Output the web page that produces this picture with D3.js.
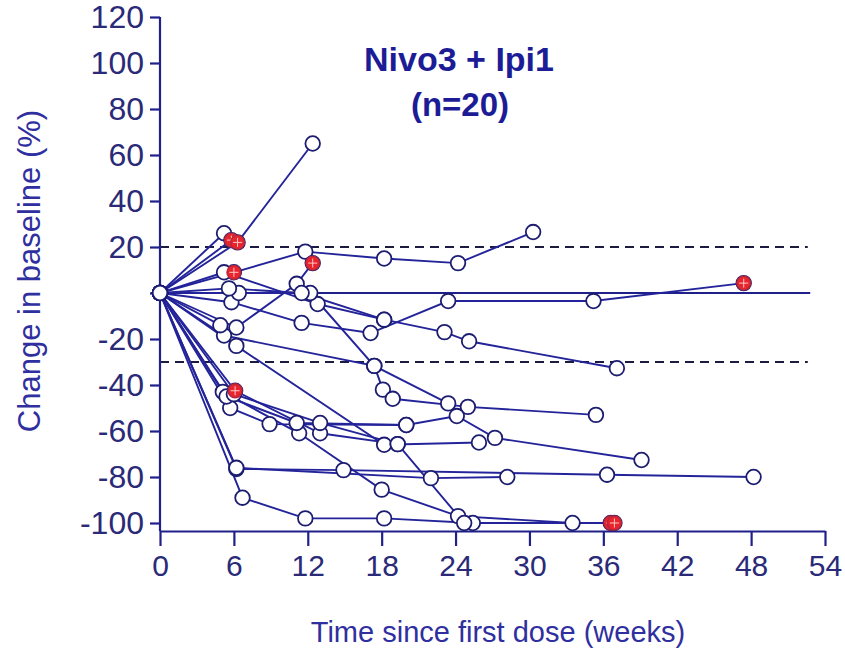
<!DOCTYPE html>
<html>
<head>
<meta charset="utf-8">
<script src="https://cdn.jsdelivr.net/npm/d3@7/dist/d3.min.js"></script>
<style>
  body { margin: 0; background: #fff; }
  svg { font-family: Arial, "Liberation Sans", sans-serif; }
</style>
</head>
<body>
<svg id="chart"></svg>
<script>
// ******************** Data ************************
// one row per patient: assessment weeks and % change from baseline
var patientWeeks = [
    [0, 6.3, 12.4],
    [0, 5.2],
    [0, 5.8],
    [0, 6, 11.8, 18.2, 24.2, 30.3],
    [0, 5.2, 12.8, 18.2, 23.1, 25.1, 37.1],
    [0, 6.2, 11.1, 12.4],
    [0, 5.8, 11.5, 17.1, 23.4, 35.2, 47.4],
    [0, 6.4, 12.2, 17.4, 23.4],
    [0, 5.6, 11.5, 18.2],
    [0, 5.2, 17.4, 18.1, 18.9, 25, 35.4],
    [0, 4.9],
    [0, 6.2, 18.2, 25.9],
    [0, 6.7, 11.8, 18.2, 25.4, 36.6],
    [0, 5.1, 11.3, 18, 24.2, 33.5],
    [0, 6.2, 14.9, 36.3, 48.2],
    [0, 6.2, 22, 28.2],
    [0, 6.1, 13, 19.3, 24.7, 36.9],
    [0, 5.7, 8.9, 20, 24.1, 27.2, 39.1],
    [0, 5.4, 11.1, 20],
    [0, 6, 13, 19.3]
];
var patientValues = [
    [0, 22, 65],
    [0, 26],
    [0, 23],
    [0, 9, 18, 15, 13, 26.5],
    [0, 9, -4.8, -11.6, -17, -21, -32.7],
    [0, -15, 4, 13],
    [0, -4, -13, -17.4, -3.5, -3.5, 4.3],
    [0, 0, 0, -31.7, -48],
    [0, 2, 0, -11.6],
    [0, -18.5, -31.7, -42, -46, -49.5, -53],
    [0, -14],
    [0, -23, -66, -65],
    [0, -89, -98, -98, -100, -100],
    [0, -43, -61, -85.5, -97, -100],
    [0, -76.5, -77, -79, -80],
    [0, -76, -80.5, -80],
    [0, -42.5, -61, -65.7, -100, -100],
    [0, -50, -57, -57.4, -53.5, -63, -72.6],
    [0, -45, -56.5, -57.4],
    [0, -44, -56.5, -65.7]
];
// red flagged assessments
var flagWeeks  = [5.8, 6.3, 6, 12.4, 6.1, 36.6, 36.9, 47.4];
var flagValues = [23, 22, 9, 13, -42.5, -100, -100, 4.3];

var xTicks = [0, 6, 12, 18, 24, 30, 36, 42, 48, 54];
var yTicks = [120, 100, 80, 60, 40, 20, 0, -20, -40, -60, -80, -100];
var yTickLabels = ["120", "100", "80", "60", "40", "20", "", "-20", "-40", "-60", "-80", "-100"];
var dashedLevels = [20, -30];

// ******************** Globals ************************
var W = 845, H = 650;
var navy = "#20208a", ink = "#2a2a78", titleBlue = "#1c1c96";

var x = d3.scaleLinear().domain([0, 54]).range([160, 825]);
var y = d3.scaleLinear().domain([-100, 120]).range([523, 17]);
var axisY = y(-100) + 8;

var svg = d3.select("#chart").attr("width", W).attr("height", H);

// reference lines
svg.selectAll("line.dash")
    .data(dashedLevels)
    .enter().append("line")
    .attr("x1", x(0)).attr("x2", x(52.6))
    .attr("y1", y).attr("y2", y)
    .attr("stroke", "#1b1b40")
    .attr("stroke-width", 2)
    .attr("stroke-dasharray", "9,6");

svg.append("line")
    .attr("x1", x(0)).attr("x2", x(52.8))
    .attr("y1", y(0)).attr("y2", y(0))
    .attr("stroke", navy).attr("stroke-width", 1.8);

// x axis
var gx = svg.append("g")
    .attr("transform", "translate(0," + axisY + ")")
    .call(d3.axisBottom(x).tickValues(xTicks).tickSize(15).tickSizeOuter(0).tickPadding(9));
gx.select(".domain").attr("stroke", navy).attr("stroke-width", 2.2);
gx.selectAll(".tick line").attr("stroke", navy).attr("stroke-width", 2.2);
gx.selectAll(".tick text").attr("fill", ink).style("font-size", "30px");

// y axis
var gy = svg.append("g")
    .attr("transform", "translate(" + x(0) + ",0)")
    .call(d3.axisLeft(y).tickValues(yTicks).tickSize(10).tickPadding(6)
        .tickFormat(function (d, i) { return yTickLabels[i]; }));
gy.select(".domain").remove();
gy.append("line")
    .attr("x1", 0).attr("x2", 0)
    .attr("y1", y(120)).attr("y2", axisY)
    .attr("stroke", navy).attr("stroke-width", 2.2);
gy.selectAll(".tick line").attr("stroke", navy).attr("stroke-width", 2.2);
gy.selectAll(".tick text").attr("fill", ink).style("font-size", "32px");

// patient lines
var line = d3.line()
    .x(function (d) { return x(d[0]); })
    .y(function (d) { return y(d[1]); });

var patients = patientWeeks.map(function (wk, i) {
    return wk.map(function (w, j) { return [w, patientValues[i][j]]; });
});

svg.append("g").selectAll("path")
    .data(patients)
    .enter().append("path")
    .attr("d", line)
    .attr("fill", "none")
    .attr("stroke", "#24249a")
    .attr("stroke-width", 1.9);

// open circles
var allPoints = [];
patients.forEach(function (p) { p.forEach(function (d) { allPoints.push(d); }); });

svg.append("g").selectAll("circle")
    .data(allPoints)
    .enter().append("circle")
    .attr("cx", function (d) { return x(d[0]); })
    .attr("cy", function (d) { return y(d[1]); })
    .attr("r", 7.3)
    .attr("fill", "#fff")
    .attr("stroke", "#1c1c70")
    .attr("stroke-width", 1.8);

// red flagged markers
var flags = flagWeeks.map(function (w, i) { return [w, flagValues[i]]; });
var gf = svg.append("g").selectAll("g")
    .data(flags)
    .enter().append("g")
    .attr("transform", function (d) { return "translate(" + x(d[0]) + "," + y(d[1]) + ")"; });
gf.append("circle")
    .attr("r", 7)
    .attr("fill", "#e8242c")
    .attr("stroke", "#b0283e")
    .attr("stroke-width", 1.3);
gf.append("path")
    .attr("d", "M-4.5,0H4.5M0,-4.5V4.5")
    .attr("stroke", "#ffc8c8")
    .attr("stroke-width", 1);

// titles
svg.append("text")
    .attr("x", 459).attr("y", 71)
    .attr("text-anchor", "middle")
    .attr("fill", titleBlue)
    .style("font-size", "34px").style("font-weight", "bold")
    .text("Nivo3 + Ipi1");
svg.append("text")
    .attr("x", 460).attr("y", 116)
    .attr("text-anchor", "middle")
    .attr("fill", titleBlue)
    .style("font-size", "33px").style("font-weight", "bold")
    .text("(n=20)");

svg.append("text")
    .attr("transform", "translate(40,271) rotate(-90)")
    .attr("text-anchor", "middle")
    .attr("fill", "#2f2fa0")
    .style("font-size", "31px")
    .text("Change in baseline (%)");

svg.append("text")
    .attr("x", 498).attr("y", 642)
    .attr("text-anchor", "middle")
    .attr("fill", "#2f2fa0")
    .style("font-size", "29px")
    .text("Time since first dose (weeks)");
</script>
</body>
</html>
